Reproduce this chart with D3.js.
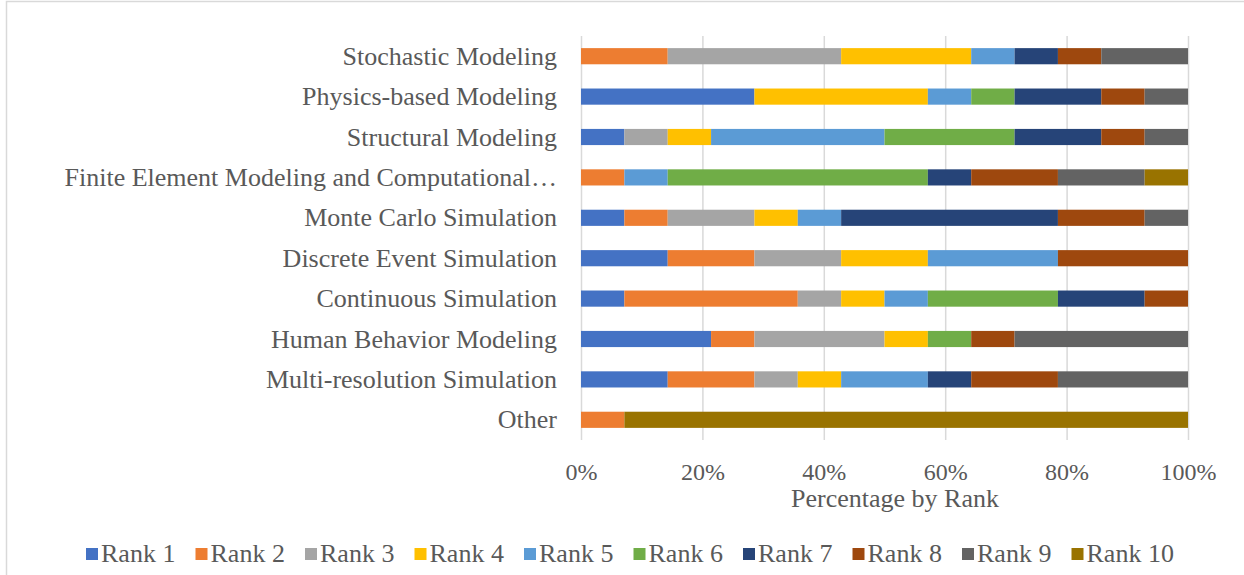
<!DOCTYPE html>
<html>
<head>
<meta charset="utf-8">
<script src="https://d3js.org/d3.v7.min.js"></script>
<style>
  body { margin: 0; background: #fff; }
  text { font-family: "Liberation Serif", "Times New Roman", serif; fill: #595959; }
</style>
</head>
<body>
<script>
// categories, top to bottom
var categories = ["Stochastic Modeling", "Physics-based Modeling", "Structural Modeling",
  "Finite Element Modeling and Computational\u2026", "Monte Carlo Simulation",
  "Discrete Event Simulation", "Continuous Simulation", "Human Behavior Modeling",
  "Multi-resolution Simulation", "Other"];

// number of responses per rank for each category
var rank1  = [0, 4, 1, 0, 1, 2, 1, 3, 2, 0];
var rank2  = [2, 0, 0, 1, 1, 2, 4, 1, 2, 1];
var rank3  = [4, 0, 1, 0, 2, 2, 1, 3, 1, 0];
var rank4  = [3, 4, 1, 0, 1, 2, 1, 1, 1, 0];
var rank5  = [1, 1, 4, 1, 1, 3, 1, 0, 2, 0];
var rank6  = [0, 1, 3, 6, 0, 0, 3, 1, 0, 0];
var rank7  = [1, 2, 2, 1, 5, 0, 2, 0, 1, 0];
var rank8  = [1, 1, 1, 2, 2, 3, 1, 1, 2, 0];
var rank9  = [2, 1, 1, 2, 1, 0, 0, 4, 3, 0];
var rank10 = [0, 0, 0, 1, 0, 0, 0, 0, 0, 13];

var seriesNames = ["Rank 1", "Rank 2", "Rank 3", "Rank 4", "Rank 5",
                   "Rank 6", "Rank 7", "Rank 8", "Rank 9", "Rank 10"];
var seriesValues = [rank1, rank2, rank3, rank4, rank5, rank6, rank7, rank8, rank9, rank10];
var ticks = [0, 0.2, 0.4, 0.6, 0.8, 1];

var colors = ["#4472C4", "#ED7D31", "#A5A5A5", "#FFC000", "#5B9BD5",
              "#70AD47", "#264478", "#9E480E", "#636363", "#997300"];

var width = 1244, height = 575;
var svg = d3.select("body").append("svg")
    .attr("width", width)
    .attr("height", height);

// chart border
svg.append("rect")
    .attr("x", 6.5).attr("y", 1.5)
    .attr("width", 1260).attr("height", 600)
    .attr("fill", "none")
    .attr("stroke", "#d9d9d9")
    .attr("stroke-width", 1.5);

// build rows for the stack
var rows = categories.map(function(c, i) {
  var r = {category: c};
  seriesNames.forEach(function(s, j) { r[s] = seriesValues[j][i]; });
  return r;
});

var stacked = d3.stack()
    .keys(seriesNames)
    .offset(d3.stackOffsetExpand)(rows);

var plotLeft = 581, plotRight = 1188, plotTop = 36, plotBottom = 440;

var x = d3.scaleLinear().domain([0, 1]).range([plotLeft, plotRight]);
var y = d3.scaleBand().domain(categories).range([plotTop, plotBottom])
    .paddingInner(0.6).paddingOuter(0.3);

// gridlines
var grid = svg.append("g")
    .attr("transform", "translate(0," + plotBottom + ")")
    .call(d3.axisBottom(x).tickValues(ticks).tickSize(-(plotBottom - plotTop)).tickFormat(""));
grid.select(".domain").remove();
grid.selectAll("line").attr("stroke", "#d9d9d9").attr("stroke-width", 1.5);

// bars
svg.append("g").selectAll("g")
    .data(stacked)
    .enter().append("g")
    .attr("fill", function(d, i) { return colors[i]; })
    .selectAll("rect")
    .data(function(d) { return d; })
    .enter().append("rect")
    .attr("x", function(d) { return x(d[0]); })
    .attr("width", function(d) { return x(d[1]) - x(d[0]); })
    .attr("y", function(d) { return y(d.data.category); })
    .attr("height", y.bandwidth());

// x tick labels
var xAxis = svg.append("g")
    .attr("transform", "translate(0," + plotBottom + ")")
    .call(d3.axisBottom(x).tickValues(ticks).tickSize(0).tickPadding(0)
          .tickFormat(d3.format(".0%")));
xAxis.select(".domain").remove();
xAxis.selectAll("text")
    .attr("y", 40).attr("dy", 0)
    .style("font-size", "24px")
    .style("font-family", "Liberation Serif, serif")
    .attr("fill", "#595959");

// category labels
var yAxis = svg.append("g")
    .attr("transform", "translate(" + (plotLeft - 24) + ",0)")
    .call(d3.axisLeft(y).tickSize(0).tickPadding(0));
yAxis.select(".domain").remove();
yAxis.selectAll("text")
    .attr("dy", "0.33em")
    .style("font-size", "26px")
    .style("font-family", "Liberation Serif, serif")
    .attr("fill", "#595959");

// axis title
svg.append("text")
    .attr("x", 895).attr("y", 507)
    .attr("text-anchor", "middle")
    .style("font-size", "26px")
    .text("Percentage by Rank");

// legend
var legend = svg.append("g").selectAll("g")
    .data(seriesNames)
    .enter().append("g")
    .attr("transform", function(d, i) { return "translate(" + (86 + i * 109.5) + ",548)"; });
legend.append("rect")
    .attr("width", 12).attr("height", 12)
    .attr("fill", function(d, i) { return colors[i]; });
legend.append("text")
    .attr("x", 15).attr("y", 14)
    .style("font-size", "26px")
    .text(function(d) { return d; });
</script>
</body>
</html>
